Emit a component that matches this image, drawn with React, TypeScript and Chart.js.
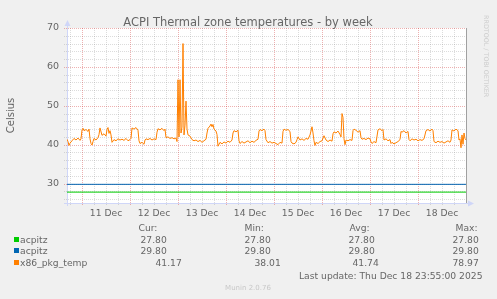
import React, { useEffect, useRef } from 'react';
import { Chart, registerables } from 'chart.js';

Chart.register(...registerables);

// ---------- data ----------
const chartTitle = 'ACPI Thermal zone temperatures - by week';
const yAxisTitle = 'Celsius';
const dayLabels = ['11 Dec', '12 Dec', '13 Dec', '14 Dec', '15 Dec', '16 Dec', '17 Dec', '18 Dec'];
const dayLabelHours = [12, 36, 60, 84, 108, 132, 156, 180];
const yTickValues = [30, 40, 50, 60, 70];
const startHour = -7.5;
const endHour = 192;
const yMin = 25;
const yMax = 70;

const seriesNames = ['acpitz', 'acpitz', 'x86_pkg_temp'];
const seriesColors = ['#00CC00', '#0066B3', '#FF8000'];

const acpitzAHours = [-7.5, 192];
const acpitzAValues = [27.8, 27.8];
const acpitzBHours = [-7.5, 192];
const acpitzBValues = [29.8, 29.8];

// hours since 11 Dec 00:00
const pkgHours = [
  -7.5, -7, -6.5, -6, -5, -4, -3, -2, -1, -0.5,
  0, 0.5, 1, 2, 3, 3.5, 4, 4.5, 5, 5.5, 6, 7, 8, 8.5, 9, 10, 11, 12, 12.5, 13, 13.5, 14, 14.5,
  15, 16, 17, 18, 19, 20, 21, 22, 23,
  24, 24.5, 25, 26, 27, 28, 28.5, 29, 30, 31, 31.5, 32, 33, 34, 35, 36, 37, 37.5, 38, 39, 40, 41, 41.5,
  42, 43, 44, 45, 46, 47, 47.5,
  48, 48.5, 49, 49.5, 50, 50.5, 51, 51.5, 52, 52.5, 53, 54, 55, 56, 57, 58, 59, 60, 61, 62, 62.5,
  63, 64, 64.5, 65, 65.5, 66, 67, 67.5, 68, 69, 70, 71,
  72, 73, 74, 75, 75.5, 76, 77, 78, 78.5, 79, 80, 81, 82, 83, 84, 85, 86, 87, 88, 88.5, 89, 90, 91, 91.5,
  92, 93, 94, 95,
  96, 97, 98, 99, 100, 100.5, 101, 102, 103, 104, 104.5, 105, 106, 107, 107.5, 108, 109, 110, 111, 112,
  113, 114, 115, 115.5, 116, 116.5, 117, 118, 119,
  120, 121, 122, 123, 124, 125, 125.5, 126, 127, 128, 129, 129.5, 130, 130.5, 131, 131.5, 132, 133, 134,
  135, 135.5, 136, 137, 138, 139, 139.5, 140, 141, 142, 143,
  144, 144.5, 145, 146, 147, 148, 149, 150, 150.5, 151, 152, 153, 154, 154.5, 155, 156, 157, 158, 159,
  159.5, 160, 161, 162, 163, 163.5, 164, 165, 166, 167,
  168, 169, 170, 171, 172, 173, 174, 175, 175.5, 176, 177, 178, 179, 180, 181, 182, 183, 184, 184.5,
  185, 186, 187, 188, 188.5, 189, 189.5, 190, 190.5, 191, 191.5, 192,
];
const pkgTemps = [
  41.4, 40.8, 39.8, 40.4, 41.0, 41.6, 41.2, 41.7, 41.1, 41.5,
  43.8, 44.2, 43.6, 43.9, 43.4, 44.0, 41.5, 40.3, 39.9, 40.8, 41.6, 41.2, 41.8, 42.6, 44.3, 42.4, 42.8, 42.2, 43.9, 44.4, 42.9, 43.6, 42.5,
  40.6, 41.3, 41.0, 41.5, 41.2, 41.4, 41.1, 41.6, 41.0,
  41.3, 41.6, 44.3, 44.0, 44.4, 43.7, 41.0, 40.3, 40.6, 40.1, 41.2, 41.5, 41.3, 41.6, 41.2, 41.5, 41.3, 43.2, 44.1, 43.8, 44.2, 43.6, 44.0,
  41.8, 42.0, 41.6, 41.8, 41.5, 41.7, 40.8,
  56.7, 42.0, 56.7, 43.0, 44.5, 66.0, 42.5, 45.0, 51.2, 44.0, 42.5, 42.2, 41.3, 41.0, 41.2, 40.8, 41.1, 40.6, 41.0, 41.4, 43.0,
  44.2, 44.8, 45.3, 44.6, 45.2, 44.0, 43.5, 42.6, 39.6, 40.6, 40.2, 40.7,
  40.4, 40.9, 40.6, 41.2, 43.0, 43.6, 43.3, 43.7, 41.0, 40.3, 40.8, 40.4, 40.7, 41.0, 40.5, 40.9, 40.6, 41.1, 41.4, 43.5, 43.9, 43.6, 44.0, 43.6,
  41.3, 40.5, 40.8, 40.4,
  40.6, 40.3, 40.0, 40.6, 40.4, 43.4, 44.0, 43.7, 43.9, 43.4, 40.8, 40.4, 40.2, 40.6, 41.3, 42.0, 41.2, 41.5, 41.1, 41.6,
  41.4, 42.5, 44.6, 43.0, 41.0, 39.8, 40.6, 40.3, 40.8,
  41.0, 42.3, 41.2, 40.8, 41.2, 40.9, 42.8, 43.3, 43.0, 43.5, 42.6, 42.0, 48.0, 47.0, 41.5, 40.0, 41.2, 41.0, 41.3,
  41.1, 43.6, 44.0, 43.7, 43.2, 43.6, 41.8, 41.4, 41.6, 41.3, 41.7,
  41.5, 40.7, 40.3, 40.8, 40.5, 43.8, 44.1, 43.6, 43.9, 41.2, 41.5, 41.0, 41.3, 40.3, 40.6, 40.2, 40.5, 40.8, 41.3,
  43.4, 43.2, 43.6, 43.0, 43.4, 41.3, 41.0, 41.5, 41.2, 41.4,
  41.0, 41.3, 41.1, 41.5, 43.6, 43.9, 43.5, 44.0, 43.6, 40.8, 40.5, 40.9, 40.6, 40.8, 40.4, 40.7, 41.0, 40.6, 41.2,
  43.8, 43.5, 44.0, 43.6, 41.2, 41.5, 39.2, 42.5, 40.1, 43.0, 41.6, 41.2,
];

const legendHeaders = ['Cur:', 'Min:', 'Avg:', 'Max:'];
const curValues = ['27.80', '29.80', '41.17'];
const minValues = ['27.80', '29.80', '38.01'];
const avgValues = ['27.80', '29.80', '41.74'];
const maxValues = ['27.80', '29.80', '78.97'];
const lastUpdate = 'Last update: Thu Dec 18 23:55:00 2025';
const footerText = 'Munin 2.0.76';
const watermark = 'RRDTOOL / TOBI OETIKER';

// ---------- styling ----------
const FONT = "'DejaVu Sans'";
const TEXT = '#666666';

const toPoints = (xs: number[], ys: number[]) => xs.map((x, i) => ({ x, y: ys[i] }));

const muninPlugin = {
  id: 'munin',
  beforeDraw(chart: any) {
    const { ctx, chartArea } = chart;
    ctx.save();
    ctx.fillStyle = '#F0F0F0';
    ctx.fillRect(0, 0, chart.width, chart.height);
    ctx.fillStyle = '#FFFFFF';
    ctx.fillRect(chartArea.left, chartArea.top, chartArea.right - chartArea.left, chartArea.bottom - chartArea.top);
    ctx.restore();
  },
  beforeDatasetsDraw(chart: any) {
    const { ctx, chartArea } = chart;
    const xs = chart.scales.x;
    const ys = chart.scales.y;
    const L = chartArea.left, R = chartArea.right, T = chartArea.top, B = chartArea.bottom;
    ctx.save();
    ctx.lineWidth = 1;
    ctx.setLineDash([1, 1]);
    const hline = (v: number, color: string) => {
      const py = Math.round(ys.getPixelForValue(v)) + 0.5;
      ctx.strokeStyle = color;
      ctx.beginPath();
      ctx.moveTo(L - 3, py);
      ctx.lineTo(R, py);
      ctx.stroke();
    };
    const vline = (h: number, color: string) => {
      const px = Math.round(xs.getPixelForValue(h)) + 0.5;
      ctx.strokeStyle = color;
      ctx.beginPath();
      ctx.moveTo(px, T);
      ctx.lineTo(px, B + 3);
      ctx.stroke();
    };
    const minor = 'rgba(140,140,140,0.30)';
    const major = 'rgba(210,50,50,0.38)';
    for (let v = yMin + 1; v <= yMax; v += 2) {
      if (v % 10 !== 0) hline(v, minor);
    }
    for (let h = -6; h < endHour; h += 6) {
      if (h % 24 !== 0) vline(h, minor);
    }
    yTickValues.forEach((v) => hline(v, major));
    for (let h = 0; h < endHour; h += 24) vline(h, major);
    ctx.setLineDash([]);
    // axes
    ctx.strokeStyle = '#CFD6F8';
    ctx.fillStyle = '#CFD6F8';
    const ax = Math.round(L) + 0.5;
    const ay = Math.round(B) + 0.5;
    ctx.beginPath();
    ctx.moveTo(ax, B + 3);
    ctx.lineTo(ax, T - 4);
    ctx.moveTo(L - 3, ay);
    ctx.lineTo(R + 4, ay);
    ctx.stroke();
    ctx.beginPath();
    ctx.moveTo(ax - 3, T - 2);
    ctx.lineTo(ax + 3, T - 2);
    ctx.lineTo(ax, T - 8);
    ctx.closePath();
    ctx.fill();
    ctx.beginPath();
    ctx.moveTo(R + 2, ay - 3);
    ctx.lineTo(R + 2, ay + 3);
    ctx.lineTo(R + 8, ay);
    ctx.closePath();
    ctx.fill();
    // right frame
    ctx.strokeStyle = '#A0A0A0';
    ctx.beginPath();
    ctx.moveTo(Math.round(R) + 0.5, T);
    ctx.lineTo(Math.round(R) + 0.5, B);
    ctx.stroke();
    ctx.restore();
  },
  afterDraw(chart: any) {
    const { ctx } = chart;
    ctx.save();
    ctx.fillStyle = TEXT;
    ctx.textBaseline = 'alphabetic';
    ctx.textAlign = 'center';
    ctx.font = `11.5px ${FONT}`;
    ctx.fillText(chartTitle, 248, 26);

    ctx.font = `9.2px ${FONT}`;
    ctx.textAlign = 'left';
    const headerX = [139, 245, 350, 456];
    legendHeaders.forEach((t, i) => ctx.fillText(t, headerX[i] - 0.5, 231));
    const rowY = [242.7, 254.3, 266];
    const valX = [
      [141, 245, 349, 453],
      [141, 245, 349, 453],
      [156, 255, 353, 453],
    ];
    seriesNames.forEach((name, i) => {
      ctx.fillStyle = seriesColors[i];
      ctx.fillRect(14, Math.round(rowY[i]) - 6, 5, 5);
      ctx.fillStyle = TEXT;
      ctx.fillText(name, 20, rowY[i]);
      const vals = [curValues[i], minValues[i], avgValues[i], maxValues[i]];
      vals.forEach((v, j) => ctx.fillText(v, valX[i][j] - 0.5, rowY[i]));
    });
    ctx.textAlign = 'right';
    ctx.fillText(lastUpdate, 482.5, 279);

    ctx.textAlign = 'center';
    ctx.fillStyle = '#C8C8C8';
    ctx.font = `7px ${FONT}`;
    ctx.fillText(footerText, 248, 290);

    ctx.translate(485.5, 15);
    ctx.rotate(Math.PI / 2);
    ctx.textAlign = 'left';
    ctx.textBaseline = 'middle';
    ctx.fillStyle = '#CCCCCC';
    ctx.font = `6.4px ${FONT}`;
    ctx.fillText(watermark, 0, 0);
    ctx.restore();
  },
};

export default function App() {
  const ref = useRef<HTMLCanvasElement | null>(null);
  useEffect(() => {
    if (!ref.current) return;
    const chart = new Chart(ref.current, {
      type: 'line',
      data: {
        datasets: [
          { label: seriesNames[0], data: toPoints(acpitzAHours, acpitzAValues), borderColor: seriesColors[0] },
          { label: seriesNames[1], data: toPoints(acpitzBHours, acpitzBValues), borderColor: seriesColors[1] },
          { label: seriesNames[2], data: toPoints(pkgHours, pkgTemps), borderColor: seriesColors[2] },
        ].map((d) => ({ ...d, borderWidth: 1, pointRadius: 0, tension: 0, fill: false })),
      },
      options: {
        animation: false,
        responsive: false,
        maintainAspectRatio: false,
        devicePixelRatio: 1,
        layout: { padding: { left: 0, right: 31, top: 28, bottom: 76 } },
        plugins: { legend: { display: false }, tooltip: { enabled: false }, title: { display: false } },
        scales: {
          x: {
            type: 'linear',
            min: startHour,
            max: endHour,
            grid: { display: false, drawTicks: false },
            border: { display: false },
            afterBuildTicks: (s: any) => {
              s.ticks = dayLabelHours.map((v) => ({ value: v }));
            },
            afterFit: (s: any) => {
              s.height = 20;
            },
            ticks: {
              autoSkip: false,
              maxRotation: 0,
              minRotation: 0,
              padding: 5,
              color: TEXT,
              font: { family: FONT, size: 9.2 },
              callback: (v: any) => {
                const i = dayLabelHours.indexOf(Number(v));
                return i >= 0 ? dayLabels[i] : '';
              },
            },
          },
          y: {
            type: 'linear',
            min: yMin,
            max: yMax,
            grid: { display: false, drawTicks: false },
            border: { display: false },
            afterBuildTicks: (s: any) => {
              s.ticks = yTickValues.map((v) => ({ value: v }));
            },
            afterFit: (s: any) => {
              s.width = 67;
            },
            title: {
              display: true,
              text: yAxisTitle,
              color: TEXT,
              font: { family: FONT, size: 10 },
              padding: { top: 5, bottom: 0 },
            },
            ticks: {
              padding: 8,
              color: TEXT,
              font: { family: FONT, size: 9.5 },
              callback: (v: any) => String(v),
            },
          },
        },
      },
      plugins: [muninPlugin],
    } as any);
    return () => chart.destroy();
  }, []);
  return (
    <div style={{ position: 'fixed', left: 0, top: 0, width: 497, height: 299 }}>
      <canvas ref={ref} width={497} height={299} style={{ width: 497, height: 299, display: 'block' }} />
    </div>
  );
}
